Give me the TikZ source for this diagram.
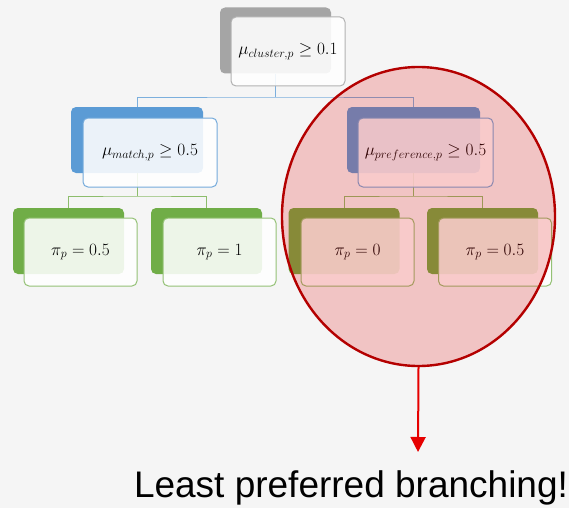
\documentclass[tikz,border=0pt]{standalone}
\usepackage{amsmath,amssymb}
\usepackage{fontspec}
\newfontfamily\notefont{Liberation Sans}
\usetikzlibrary{arrows.meta,positioning,shapes.geometric}

\definecolor{bgcol}{HTML}{F5F5F5}
\definecolor{graycol}{HTML}{A5A5A5}
\definecolor{bluecol}{HTML}{5B9BD5}
\definecolor{greencol}{HTML}{70AD47}
\definecolor{hlfill}{HTML}{E40000}
\definecolor{hledge}{HTML}{B40000}
\definecolor{arrowred}{HTML}{E60000}

\begin{document}
\begin{tikzpicture}[x=1pt, y=-1pt,
  back/.style={rounded corners=5pt, inner sep=0pt, minimum width=111pt, minimum height=66pt},
  front/.style={draw, rounded corners=5pt, fill=white, fill opacity=0.88, text opacity=1,
    inner sep=0pt, minimum width=113pt, minimum height=68pt, line width=1pt,
    font=\fontsize{16.5}{19}\selectfont},
  upline/.style={draw=bluecol!80, line width=0.9pt},
  lowline/.style={draw=greencol!80, line width=0.9pt},
  >={Triangle[length=15pt, width=15pt]}
]
\fill[bgcol] (0,0) rectangle (569,508);
\useasboundingbox (0,0) rectangle (569,508);

% joints of the tree
\coordinate (j1) at (275.5,97);
\coordinate (j2) at (137,196);
\coordinate (j3) at (413.5,196);

% back boxes
\node[back, fill=graycol] (b1) at (275.5,40.5) {};
\node[back, fill=bluecol, minimum width=132pt] (b2) at (137,140) {};
\node[back, fill=bluecol, minimum width=133pt] (b3) at (413.5,140) {};
\node[back, fill=greencol] (b4) at (68.5,241) {};
\node[back, fill=greencol] (b5) at (206.5,241) {};
\node[back, fill=greencol] (b6) at (344,241) {};
\node[back, fill=greencol] (b7) at (482.5,241) {};

% connectors
\draw[upline] (b1.south) -- (j1);
\draw[upline] (b2.north) |- (j1) -| (b3.north);
\draw[lowline] (b2.south) -- (j2);
\draw[lowline] (b4.north) |- (j2) -| (b5.north);
\draw[lowline] (b3.south) -- (j3);
\draw[lowline] (b6.north) |- (j3) -| (b7.north);

% front boxes
\node[front, draw=graycol!85, minimum width=114pt, minimum height=69pt] (t1) at (288,51.5) {$\mu_{cluster,p} \geq 0.1$};
\node[front, draw=bluecol!85, minimum width=134pt, minimum height=69pt] (t2) at (150,152.5) {$\mu_{match,p} \geq 0.5$};
\node[front, draw=bluecol!85, minimum width=135pt, minimum height=69pt] (t3) at (425.5,152.5) {$\mu_{preference,p} \geq 0.5$};
\node[front, draw=greencol!75] (t4) at (80.5,252) {$\pi_p = 0.5$};
\node[front, draw=greencol!75] (t5) at (219.5,252) {$\pi_p = 1$};
\node[front, draw=greencol!75] (t6) at (357.5,252) {$\pi_p = 0$};
\node[front, draw=greencol!75] (t7) at (495,252) {$\pi_p = 0.5$};

% highlighted branch
\node[ellipse, draw=hledge, line width=2.4pt, fill=hlfill, fill opacity=0.2,
  minimum width=273pt, minimum height=299pt] (hl) at (418.5,216.5) {};
\coordinate (tip) at (418,452);
\draw[->, draw=arrowred, fill=arrowred, line width=2pt] (hl.south) -- (tip);
\node[font=\notefont\fontsize{37}{41}\selectfont, anchor=base, inner sep=0pt] (note) at (351,497) {Least preferred branching!};
\end{tikzpicture}
\end{document}
